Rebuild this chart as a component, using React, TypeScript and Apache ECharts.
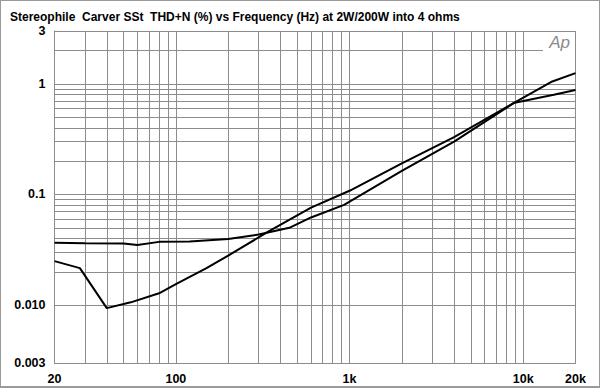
import React, { useEffect, useRef } from "react";
import * as echarts from "echarts";

const title = "Stereophile  Carver SSt  THD+N (%) vs Frequency (Hz) at 2W/200W into 4 ohms";

// Curve A (flat low-frequency curve)
const freqA = [20, 30, 50, 60, 80, 120, 200, 300, 450, 600, 930, 2000, 4000, 8800, 10000, 15000, 20000];
const thdA = [0.0366, 0.0362, 0.036, 0.035, 0.0373, 0.0376, 0.0395, 0.0435, 0.05, 0.062, 0.0805, 0.163, 0.30, 0.669, 0.70, 0.795, 0.88];

// Curve B (dipping curve)
const freqB = [20, 28, 40, 55, 80, 100, 150, 200, 340, 600, 1000, 2000, 4000, 8800, 14700, 20000];
const thdB = [0.025, 0.0216, 0.0094, 0.0106, 0.0128, 0.0155, 0.0216, 0.028, 0.0461, 0.076, 0.108, 0.191, 0.33, 0.669, 1.05, 1.25];

const xTickValues = [20, 100, 1000, 10000, 20000];
const xTickLabels = ["20", "100", "1k", "10k", "20k"];
const yTickValues = [0.003, 0.01, 0.1, 1, 3];
const yTickLabels = ["0.003", "0.010", "0.1", "1", "3"];

const xGrid = [30, 40, 50, 60, 70, 80, 90, 100, 200, 300, 400, 500, 600, 700, 800, 900, 1000, 2000, 3000, 4000, 5000, 6000, 7000, 8000, 9000, 10000];
const yGrid = [0.004, 0.005, 0.006, 0.007, 0.008, 0.009, 0.01, 0.02, 0.03, 0.04, 0.05, 0.06, 0.07, 0.08, 0.09, 0.1, 0.2, 0.3, 0.4, 0.5, 0.6, 0.7, 0.8, 0.9, 1, 2];

const FONT = "'Liberation Sans', Arial, Helvetica, sans-serif";
const GRID_COLOR = "#8c8c8c";

export default function App() {
  const ref = useRef<HTMLDivElement>(null);
  useEffect(() => {
    document.body.style.margin = "0";
    if (!ref.current) return;
    const chart = echarts.init(ref.current, null, { renderer: "svg" });
    const pairs = (f: number[], v: number[]) => f.map((x, i) => [x, v[i]]);
    const lbl = (vals: number[], names: string[]) => (val: number) => {
      const i = vals.findIndex((t) => Math.abs(t - val) / t < 1e-6);
      return i >= 0 ? names[i] : "";
    };
    chart.setOption({
      animation: false,
      backgroundColor: "#ffffff",
      title: {
        text: title,
        left: 4,
        top: 5,
        textStyle: { fontFamily: FONT, fontWeight: "bold", fontSize: 12, color: "#000" },
      },
      grid: { left: 53.5, right: 23.5, top: 30, bottom: 23 },
      xAxis: {
        type: "log",
        logBase: 10,
        min: 20,
        max: 20000,
        axisLine: { show: true, lineStyle: { color: GRID_COLOR, width: 1 } },
        axisTick: { show: false },
        splitLine: { show: false },
        axisLabel: {
          customValues: xTickValues,
          formatter: lbl(xTickValues, xTickLabels),
          fontFamily: FONT,
          fontWeight: "bold",
          fontSize: 12.5,
          color: "#000",
          margin: 9,
        },
      },
      yAxis: {
        type: "log",
        logBase: 10,
        min: 0.003,
        max: 3,
        axisLine: { show: true, lineStyle: { color: GRID_COLOR, width: 1 } },
        axisTick: { show: false },
        splitLine: { show: false },
        axisLabel: {
          customValues: yTickValues,
          formatter: lbl(yTickValues, yTickLabels),
          fontFamily: FONT,
          fontWeight: "bold",
          fontSize: 12.5,
          color: "#000",
          margin: 9,
        },
      },
      series: [
        {
          type: "line",
          data: [],
          silent: true,
          markLine: {
            silent: true,
            symbol: "none",
            label: { show: false },
            lineStyle: { color: GRID_COLOR, width: 1, type: "solid" },
            data: [
              ...xGrid.map((x) => ({ xAxis: x })),
              ...yGrid.map((y) => ({ yAxis: y })),
              { xAxis: 20000 },
              { yAxis: 3 },
            ],
          },
        },
        {
          type: "line",
          data: pairs(freqA, thdA),
          symbol: "none",
          lineStyle: { color: "#000", width: 2 },
          z: 5,
        },
        {
          type: "line",
          data: pairs(freqB, thdB),
          symbol: "none",
          lineStyle: { color: "#000", width: 2 },
          z: 5,
        },
      ],
      graphic: [
        {
          type: "rect",
          right: 24,
          top: 31,
          z: 100,
          shape: { width: 32, height: 22 },
          style: { fill: "#ffffff" },
        },
        {
          type: "text",
          right: 29,
          top: 33,
          z: 101,
          style: {
            text: "Ap",
            fontFamily: FONT,
            fontStyle: "italic",
            fontSize: 17,
            fill: "#8a8a8a",
          },
        },
      ],
    });
    return () => chart.dispose();
  }, []);
  return (
    <div
      style={{
        position: "absolute",
        left: 0,
        top: 0,
        width: 600,
        height: 388,
        boxSizing: "border-box",
        border: "1px solid #9a9a9a",
        borderBottomWidth: 2,
        background: "#fff",
      }}
    >
      <div ref={ref} style={{ width: 598, height: 385 }} />
    </div>
  );
}
